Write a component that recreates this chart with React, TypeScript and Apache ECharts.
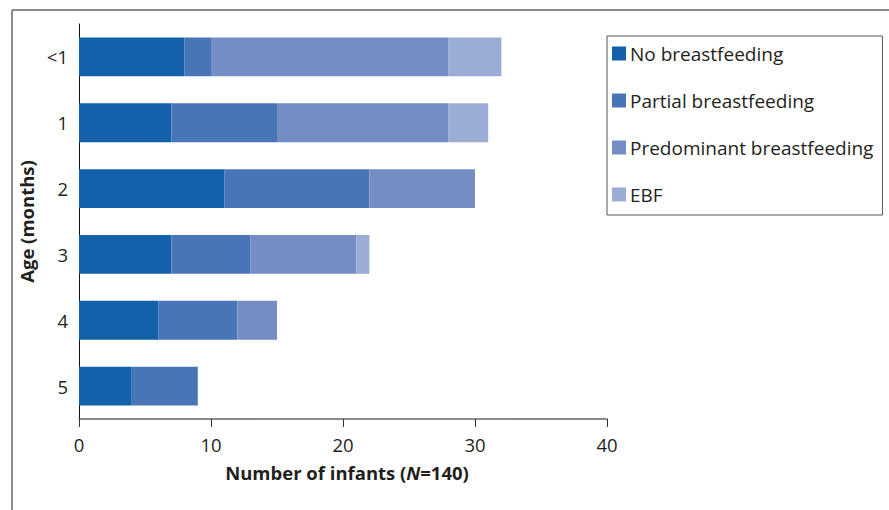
import React, { useEffect, useRef } from "react";
import * as echarts from "echarts";

const categories = ["<1", "1", "2", "3", "4", "5"];
const noBreastfeeding = [8, 7, 11, 7, 6, 4];
const partialBreastfeeding = [2, 8, 11, 6, 6, 5];
const predominantBreastfeeding = [18, 13, 8, 8, 3, 0];
const ebf = [4, 3, 0, 1, 0, 0];
const seriesNames = ["No breastfeeding", "Partial breastfeeding", "Predominant breastfeeding", "EBF"];
const colors = ["#1261a9", "#4775b7", "#748dc4", "#9badd4"];
const xTicks = { min: 0, max: 40, interval: 10 };

const FONT = "'Open Sans', 'Noto Sans', sans-serif";
const TEXT = "#231f20";

export default function App() {
  const ref = useRef<HTMLDivElement>(null);
  useEffect(() => {
    if (!ref.current) return;
    const chart = echarts.init(ref.current, undefined, { renderer: "svg" });
    const values = [noBreastfeeding, partialBreastfeeding, predominantBreastfeeding, ebf];
    chart.setOption({
      animation: false,
      textStyle: { fontFamily: FONT, color: TEXT },
      grid: { left: 79, right: 282, top: 24, bottom: 91, containLabel: false },
      graphic: [
        { type: "line", shape: { x1: 12, y1: 10, x2: 12, y2: 510 }, style: { stroke: "#8a8a8a", lineWidth: 2 } },
        { type: "line", shape: { x1: 12, y1: 10, x2: 889, y2: 10 }, style: { stroke: "#8a8a8a", lineWidth: 2 } },
      ],
      legend: {
        orient: "vertical",
        left: 607,
        top: 36,
        itemWidth: 14,
        itemHeight: 14,
        itemGap: 26,
        padding: [7, 9, 10, 5],
        borderColor: "#555",
        borderWidth: 1,
        icon: "rect",
        textStyle: { fontFamily: FONT, fontSize: 19, color: TEXT, lineHeight: 21, padding: [0, 0, 0, -1] },
        data: seriesNames,
      },
      xAxis: {
        type: "value",
        min: xTicks.min,
        max: xTicks.max,
        interval: xTicks.interval,
        axisLine: { show: true, lineStyle: { color: "#666", width: 1.5 } },
        axisTick: { show: true, length: 8, lineStyle: { color: "#333" } },
        splitLine: { show: false },
        axisLabel: { fontFamily: FONT, fontSize: 18.5, color: TEXT, margin: 16 },
        name: "{b|Number of infants (}{i|N}{b|=140)}",
        nameLocation: "middle",
        nameGap: 44,
        nameTextStyle: {
          padding: [0, 0, 0, 8],
          rich: {
            b: { fontFamily: FONT, fontSize: 18.5, fontWeight: "bold", color: TEXT },
            i: { fontFamily: FONT, fontSize: 18.5, fontWeight: "bold", fontStyle: "italic", color: TEXT },
          },
        },
      },
      yAxis: {
        type: "category",
        data: categories,
        inverse: true,
        axisLine: { show: true, lineStyle: { color: "#111", width: 1 } },
        axisTick: { show: false },
        axisLabel: { fontFamily: FONT, fontSize: 18.5, color: TEXT, margin: 11 },
        name: "Age (months)",
        nameLocation: "middle",
        nameGap: 40,
        nameTextStyle: { fontFamily: FONT, fontSize: 18.5, fontWeight: "bold", color: TEXT },
      },
      series: seriesNames.map((name, i) => ({
        name,
        type: "bar",
        stack: "total",
        barWidth: "59%",
        itemStyle: { color: colors[i] },
        data: values[i],
      })),
    });
    return () => chart.dispose();
  }, []);
  return (
    <div
      ref={ref}
      style={{ position: "fixed", left: 0, top: 0, width: 889, height: 510, background: "#fff" }}
    />
  );
}
